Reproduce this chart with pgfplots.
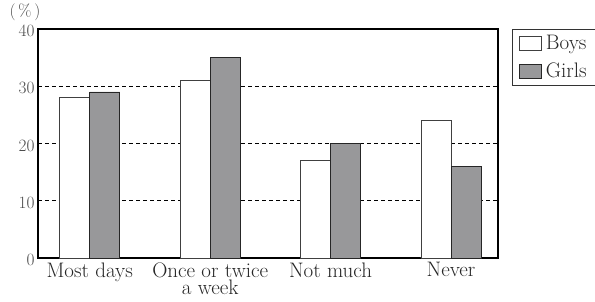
\documentclass[border=0pt]{standalone}
\usepackage{pgfplots}
\pgfplotsset{compat=1.18}
\definecolor{barg}{RGB}{152,152,154}
\begin{document}
\begin{tikzpicture}
\begin{axis}[
  name=ax,
  scale only axis, width=460pt, height=229pt,
  clip=false,
  xmin=-0.43, xmax=3.39, ymin=0, ymax=40,
  xtick={0,1,2,3},
  xticklabels={Most days,{Once or twice\\[-3pt]a week},Not much,Never},
  xticklabel style={align=center, font=\fontsize{21}{20}\selectfont, yshift=-1pt, text=black!85},
  ytick={0,10,20,30,40},
  yticklabel style={font=\fontsize{17}{17}\selectfont, xshift=0pt, yshift=-2pt, text=black!70},
  major tick length=0pt,
  ymajorgrids, grid style={black, line width=0.6pt, dash pattern=on 4pt off 3pt},
  axis line style={line width=1.2pt},
  legend style={at={(1,1)}, xshift=14pt, anchor=north west, draw=black!80, line width=0.6pt,
    font=\fontsize{21}{20}\selectfont, inner xsep=7pt, inner ysep=4pt,
    row sep=8pt, legend cell align=left, nodes={inner sep=2pt, text=black!85},
    column sep=2pt},
  legend image code/.code={\draw[#1, line width=0.6pt] (0pt,-7pt) rectangle (22pt,7pt);},
]
\addplot[ybar, bar width=0.25, bar shift=-0.125, fill=white, draw=black!75, line width=0.8pt]
  coordinates {(0,28) (1,31) (2,17) (3,24)};
\addlegendentry{Boys}
\addplot[ybar, bar width=0.25, bar shift=0.125, fill=barg, draw=black!85, line width=0.8pt]
  coordinates {(0,29) (1,35) (2,20) (3,16)};
\addlegendentry{Girls}
\node[font=\fontsize{17}{17}\selectfont, text=black!70] at (rel axis cs:0,1) [xshift=-13pt, yshift=17pt] {(\,\%\,)};
\end{axis}
\pgfresetboundingbox
\path (ax.south west) ++(-38pt,-44pt) rectangle ++(595pt,302pt);
\end{tikzpicture}
\end{document}
